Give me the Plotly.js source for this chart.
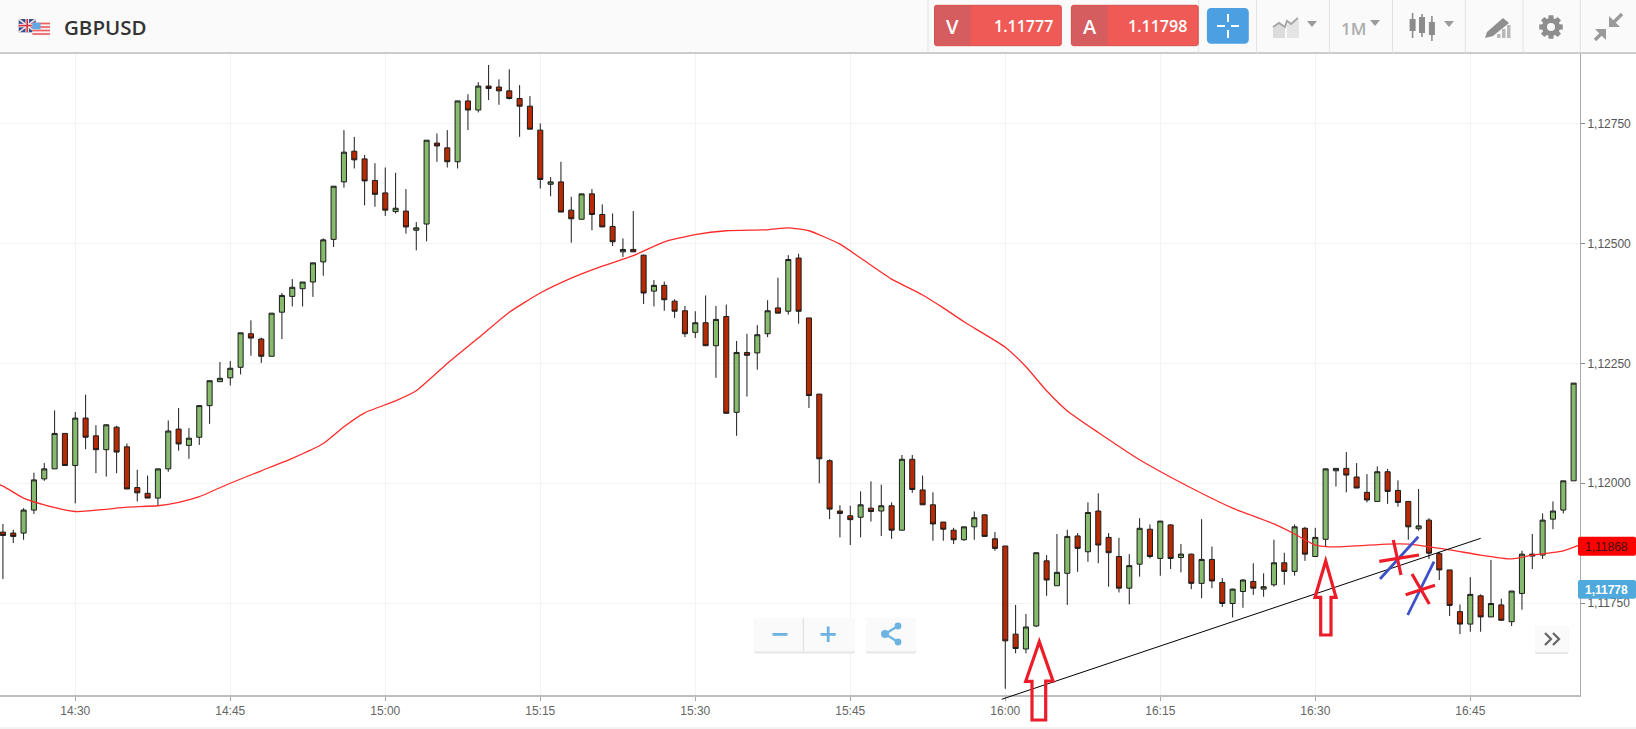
<!DOCTYPE html>
<html><head><meta charset="utf-8">
<script src="https://cdn.plot.ly/plotly-3.0.1.min.js"></script>
<style>html,body{margin:0;padding:0;background:#fff;overflow:hidden}#chart{width:1636px;height:729px}</style>
</head><body><div id="chart"></div>
<script>
const day = '2024-01-15 ';
const times = ['14:23','14:24','14:25','14:26','14:27','14:28','14:29','14:30','14:31','14:32','14:33','14:34','14:35','14:36','14:37','14:38','14:39','14:40','14:41','14:42','14:43','14:44','14:45','14:46','14:47','14:48','14:49','14:50','14:51','14:52','14:53','14:54','14:55','14:56','14:57','14:58','14:59','15:00','15:01','15:02','15:03','15:04','15:05','15:06','15:07','15:08','15:09','15:10','15:11','15:12','15:13','15:14','15:15','15:16','15:17','15:18','15:19','15:20','15:21','15:22','15:23','15:24','15:25','15:26','15:27','15:28','15:29','15:30','15:31','15:32','15:33','15:34','15:35','15:36','15:37','15:38','15:39','15:40','15:41','15:42','15:43','15:44','15:45','15:46','15:47','15:48','15:49','15:50','15:51','15:52','15:53','15:54','15:55','15:56','15:57','15:58','15:59','16:00','16:01','16:02','16:03','16:04','16:05','16:06','16:07','16:08','16:09','16:10','16:11','16:12','16:13','16:14','16:15','16:16','16:17','16:18','16:19','16:20','16:21','16:22','16:23','16:24','16:25','16:26','16:27','16:28','16:29','16:30','16:31','16:32','16:33','16:34','16:35','16:36','16:37','16:38','16:39','16:40','16:41','16:42','16:43','16:44','16:45','16:46','16:47','16:48','16:49','16:50','16:51','16:52','16:53','16:54','16:55'];
const open = [
1.11898,1.11896,1.11896,1.11944,1.12009,1.12030,1.12104,1.12037,1.12136,1.12099,
1.12070,1.12117,1.12076,1.11991,1.11979,1.11969,1.12030,1.12113,1.12079,1.12096,
1.12162,1.12212,1.12220,1.12242,1.12312,1.12301,1.12265,1.12357,1.12390,1.12406,
1.12420,1.12462,1.12509,1.12629,1.12693,1.12677,1.12632,1.12606,1.12567,1.12568,
1.12528,1.12541,1.12710,1.12700,1.12671,1.12798,1.12779,1.12829,1.12827,1.12819,
1.12803,1.12787,1.12737,1.12624,1.12629,1.12570,1.12551,1.12604,1.12561,1.12536,
1.12483,1.12488,1.12476,1.12401,1.12413,1.12380,1.12360,1.12315,1.12335,1.12287,
1.12348,1.12148,1.12273,1.12272,1.12312,1.12366,1.12359,1.12470,1.12345,1.12186,
1.12047,1.11942,1.11932,1.11929,1.11948,1.11942,1.11953,1.11902,1.12050,1.11986,
1.11955,1.11919,1.11902,1.11882,1.11909,1.11934,1.11884,1.11869,1.11685,1.11654,
1.11702,1.11838,1.11786,1.11812,1.11890,1.11857,1.11942,1.11887,1.11847,1.11781,
1.11831,1.11904,1.11843,1.11913,1.11845,1.11852,1.11791,1.11841,1.11793,1.11749,
1.11774,1.11795,1.11779,1.11788,1.11834,1.11816,1.11906,1.11847,1.11883,1.12026,
1.12031,1.12013,1.11981,1.11962,1.12024,1.11985,1.11962,1.11905,1.11923,1.11853,
1.11819,1.11732,1.11706,1.11765,1.11721,1.11746,1.11711,1.11770,1.11852,1.11850,
1.11925,1.11944,1.12005];
const close = [
1.11891,1.11889,1.11944,1.12007,1.12030,1.12104,1.12037,1.12136,1.12096,1.12070,
1.12122,1.12065,1.11988,1.11980,1.11969,1.12030,1.12109,1.12082,1.12094,1.12162,
1.12214,1.12219,1.12240,1.12314,1.12303,1.12265,1.12355,1.12392,1.12409,1.12420,
1.12460,1.12508,1.12620,1.12691,1.12675,1.12631,1.12603,1.12570,1.12574,1.12535,
1.12533,1.12716,1.12704,1.12671,1.12798,1.12779,1.12829,1.12824,1.12819,1.12803,
1.12787,1.12739,1.12634,1.12629,1.12566,1.12552,1.12604,1.12561,1.12535,1.12504,
1.12488,1.12483,1.12397,1.12413,1.12383,1.12359,1.12312,1.12335,1.12287,1.12342,
1.12146,1.12273,1.12267,1.12310,1.12360,1.12355,1.12467,1.12359,1.12183,1.12051,
1.11946,1.11937,1.11924,1.11955,1.11941,1.11953,1.11902,1.12050,1.11987,1.11955,
1.11915,1.11904,1.11882,1.11909,1.11928,1.11889,1.11864,1.11671,1.11655,1.11700,
1.11855,1.11798,1.11814,1.11889,1.11864,1.11939,1.11871,1.11855,1.11781,1.11828,
1.11906,1.11847,1.11921,1.11843,1.11852,1.11791,1.11841,1.11796,1.11749,1.11779,
1.11798,1.11781,1.11784,1.11834,1.11816,1.11909,1.11852,1.11887,1.12030,1.12031,
1.12017,1.11990,1.11965,1.12024,1.11983,1.11960,1.11909,1.11911,1.11854,1.11819,
1.11745,1.11706,1.11768,1.11721,1.11749,1.11714,1.11775,1.11852,1.11848,1.11923,
1.11942,1.12005,1.12209];
const high = [
1.11915,1.11903,1.11948,1.12022,1.12042,1.12152,1.12104,1.12149,1.12185,1.12121,
1.12123,1.12120,1.12083,1.12028,1.12016,1.12030,1.12131,1.12157,1.12115,1.12163,
1.12214,1.12253,1.12255,1.12314,1.12340,1.12304,1.12355,1.12397,1.12426,1.12420,
1.12460,1.12511,1.12620,1.12737,1.12723,1.12685,1.12668,1.12659,1.12648,1.12614,
1.12545,1.12716,1.12730,1.12737,1.12798,1.12812,1.12837,1.12873,1.12843,1.12864,
1.12831,1.12808,1.12751,1.12639,1.12671,1.12598,1.12604,1.12614,1.12582,1.12563,
1.12511,1.12568,1.12477,1.12424,1.12421,1.12384,1.12370,1.12359,1.12392,1.12370,
1.12373,1.12297,1.12312,1.12330,1.12382,1.12429,1.12476,1.12479,1.12345,1.12186,
1.12050,1.11954,1.11953,1.11983,1.12004,1.11997,1.11960,1.12059,1.12059,1.12016,
1.11981,1.11919,1.11907,1.11909,1.11941,1.11935,1.11898,1.11869,1.11746,1.11727,
1.11855,1.11850,1.11894,1.11903,1.11896,1.11960,1.11979,1.11896,1.11886,1.11852,
1.11927,1.11914,1.11921,1.11914,1.11873,1.11853,1.11925,1.11868,1.11802,1.11780,
1.11800,1.11833,1.11812,1.11882,1.11855,1.11914,1.11909,1.11907,1.12031,1.12031,
1.12065,1.12042,1.12019,1.12035,1.12030,1.12006,1.11963,1.11988,1.11927,1.11857,
1.11819,1.11747,1.11804,1.11768,1.11840,1.11759,1.11775,1.11859,1.11894,1.11937,
1.11962,1.12005,1.12209];
const low = [
1.11800,1.11875,1.11882,1.11936,1.12005,1.12030,1.12037,1.11958,1.12071,1.12021,
1.12014,1.12021,1.11988,1.11962,1.11969,1.11953,1.12024,1.12068,1.12051,1.12080,
1.12124,1.12212,1.12204,1.12227,1.12266,1.12251,1.12265,1.12301,1.12369,1.12369,
1.12389,1.12433,1.12493,1.12617,1.12657,1.12580,1.12577,1.12558,1.12563,1.12521,
1.12486,1.12505,1.12671,1.12659,1.12657,1.12737,1.12774,1.12800,1.12790,1.12801,
1.12723,1.12739,1.12615,1.12599,1.12566,1.12502,1.12551,1.12528,1.12535,1.12495,
1.12472,1.12483,1.12374,1.12369,1.12360,1.12345,1.12305,1.12303,1.12287,1.12220,
1.12146,1.12099,1.12181,1.12237,1.12305,1.12355,1.12352,1.12333,1.12157,1.12000,
1.11925,1.11887,1.11871,1.11887,1.11920,1.11890,1.11884,1.11902,1.11980,1.11955,
1.11880,1.11880,1.11873,1.11880,1.11882,1.11889,1.11859,1.11571,1.11645,1.11645,
1.11700,1.11765,1.11786,1.11746,1.11815,1.11836,1.11833,1.11784,1.11772,1.11747,
1.11805,1.11843,1.11807,1.11821,1.11814,1.11779,1.11760,1.11781,1.11742,1.11720,
1.11740,1.11767,1.11763,1.11784,1.11788,1.11807,1.11838,1.11846,1.11868,1.11993,
1.11981,1.11990,1.11960,1.11962,1.11957,1.11951,1.11882,1.11901,1.11842,1.11798,
1.11723,1.11685,1.11690,1.11690,1.11721,1.11713,1.11702,1.11736,1.11821,1.11842,
1.11904,1.11937,1.12005];
const maTimes = ['14:22','14:23','14:25','14:27','14:30','14:35','14:38','14:40','14:42','14:45','14:48','14:51','14:54','14:56','14:58','15:01','15:03','15:06','15:09','15:12','15:15','15:18','15:21','15:24','15:27','15:30','15:33','15:37','15:39','15:41','15:44','15:46','15:49','15:52','15:54','15:56','16:00','16:02','16:04','16:06','16:09','16:13','16:18','16:22','16:26','16:28','16:30','16:32','16:37','16:39','16:43','16:46','16:49','16:51','16:54','16:56'];
const maValues = [1.12001,1.11994,1.11969,1.11955,1.11941,1.11950,1.11953,1.11960,1.11972,1.12000,1.12026,1.12052,1.12083,1.12118,1.12147,1.12172,1.12193,1.12250,1.12303,1.12357,1.12397,1.12428,1.12453,1.12475,1.12504,1.12519,1.12527,1.12529,1.12533,1.12527,1.12499,1.12470,1.12426,1.12393,1.12366,1.12337,1.12284,1.12243,1.12193,1.12151,1.12106,1.12049,1.11990,1.11948,1.11915,1.11894,1.11871,1.11867,1.11873,1.11873,1.11861,1.11850,1.11842,1.11850,1.11859,1.11875];
const priceTicks = [1.1175,1.12,1.1225,1.125,1.1275];
const symbol = 'GBPUSD', bidLabel = 'V', askLabel = 'A', bid = '1.11777', ask = '1.11798', period = '1M';
const maLast = '1,11868', lastPrice = '1,11778';

const W = 1636, H = 729;
const X = x => x / W, Y = y => 1 - y / H;
const shapes = [], notes = [];
const poly = (pts, fill, line, lw, closed = true) => shapes.push({type:'path', xref:'paper', yref:'paper', layer:'above',
  path: 'M' + pts.map(p => X(p[0]) + ',' + Y(p[1])).join(' L') + (closed ? ' Z' : ''),
  fillcolor: fill || 'rgba(0,0,0,0)', line: {color: line || 'rgba(0,0,0,0)', width: line ? lw : 0}});
const rect = (x0, y0, x1, y1, fill, line, lw) => shapes.push({type:'rect', xref:'paper', yref:'paper', layer:'above',
  x0:X(x0), x1:X(x1), y0:Y(y0), y1:Y(y1), fillcolor:fill, line:{color:line||'rgba(0,0,0,0)', width:line?(lw||1):0}});
const rrect = (x0, y0, x1, y1, r, fill, line, lw) => {
  const pts = [];
  [[x1-r,y0+r,-90],[x1-r,y1-r,0],[x0+r,y1-r,90],[x0+r,y0+r,180]].forEach(c => {
    for (let a=0;a<=90;a+=30){const t=(c[2]+a)*Math.PI/180; pts.push([c[0]+r*Math.cos(t),c[1]+r*Math.sin(t)]);}
  });
  poly(pts, fill, line, lw||1);
};
const seg = (x0,y0,x1,y1,color,w) => poly([[x0,y0],[x1,y1]], null, color, w, false);
const note = (x, y, text, size, color, family, weight) => notes.push({xref:'paper', yref:'paper', x:X(x), y:Y(y), text, showarrow:false,
  xanchor:'center', yanchor:'middle', font:{size, color, family:family||'"Open Sans"', weight:weight||400}});

// header bar
rect(0,0,1636,53,'#fafafa');
seg(0,53,1636,53,'#bdbdbd',1.5);
seg(0,728,1636,728,'#e6e6e6',1);
[928,1198.7,1256.6,1329.4,1392.5,1465.3,1523,1580.3].forEach(x => seg(x,0,x,53,'#e2e2e2',1));
// flags
rect(18.7,19,35.7,32.3,'#32508f');
seg(18.7,19,35.7,32.3,'#f2dcdc',1.6); seg(35.7,19,18.7,32.3,'#f2dcdc',1.6);
seg(27.2,19,27.2,32.3,'#f7e9e9',3.5); seg(18.7,25.6,35.7,25.6,'#f7e9e9',3.5);
seg(27.2,19,27.2,32.3,'#d9333f',1.6); seg(18.7,25.6,35.7,25.6,'#d9333f',1.6);
rect(32.3,22.7,50,35.7,'#f4f4f4');
[23.5,27,30.5,34].forEach(y => seg(32.3,y,50,y,'#ef5f63',1.7));
rect(32.3,22.7,40.5,29.2,'#63a7e4');
note(106,26.7,symbol,20.5,'#333333','"Open Sans"',600);
// bid / ask
rrect(934.5,5.3,1061.3,45.7,2,'#f05a56','#d44f4e',1);
poly([[935,6],[970.6,6],[970.6,45],[935,45]],'#d55c5f');
rrect(1071.4,5.3,1198.2,45.7,2,'#f05a56','#d44f4e',1);
poly([[1072,6],[1107.6,6],[1107.6,45],[1072,45]],'#d55c5f');
note(952.3,27,bidLabel,20,'#ffffff','"Open Sans"',600);
note(1089.5,27,askLabel,20,'#ffffff','"Open Sans"',600);
note(1023.7,25.5,bid,16,'#ffffff','"Open Sans"',600);
note(1157,25.5,ask,16,'#ffffff','"Open Sans"',600);
// crosshair button
rrect(1206.9,8,1248.8,43.7,4,'#4c9fe0');
seg(1217,26,1225,26,'#fff',2); seg(1231,26,1239,26,'#fff',2);
seg(1228,14,1228,22,'#fff',2); seg(1228,30,1228,38,'#fff',2);
// chart-type icon
poly([[1273,38],[1273,27],[1279,22],[1285,27],[1285,38]],'#dcdcdc');
poly([[1287,38],[1287,25],[1299,20],[1299,38]],'#e4e4e4');
poly([[1273,27],[1279,23],[1285,27],[1287,21],[1291,24],[1298,18]],null,'#a6a6a6',2,false);
const caret = (x,y) => poly([[x-5,y-3],[x+5,y-3],[x,y+3]],'#9b9b9b');
caret(1312,24); caret(1375,23); caret(1449,24);
note(1353.5,28,period,17,'#adadad','"Open Sans"',600);
// candle icon
[[1412.6,13,38,19,31],[1422,14,37,17,33],[1431.9,16,41,22,35]].forEach(c => {
  seg(c[0],c[1],c[0],c[2],'#8c8c8c',1.6); rect(c[0]-3,c[3],c[0]+3,c[4],'#8c8c8c');
});
// drawing icon
poly([[1485,38],[1487,32],[1503,18],[1509,23],[1493,36]],'#8f8f8f');
[[1497,34],[1502,29],[1507,25]].forEach(b => rect(b[0],b[1],b[0]+3.5,38,'#b9b9b9'));
// gear
{ const pts=[]; const cx=1551, cy=27;
  for(let i=0;i<8;i++){ const a=i*Math.PI/4;
    [[-0.3,9],[-0.2,12],[0.2,12],[0.3,9]].forEach(p=>pts.push([cx+p[1]*Math.cos(a+p[0]),cy+p[1]*Math.sin(a+p[0])])); }
  poly(pts,'#8e8e8e');
  shapes.push({type:'circle',xref:'paper',yref:'paper',layer:'above',x0:X(cx-4),x1:X(cx+4),y0:Y(cy-4),y1:Y(cy+4),fillcolor:'#fafafa',line:{width:0}});
}
// compress icon
poly([[1609,27],[1609,16],[1620,27]],'#9a9a9a');
seg(1613,23,1622,14,'#9a9a9a',3.4);
poly([[1606,29],[1606,40],[1595,29]],'#9a9a9a');
seg(1602,33,1595,40,'#9a9a9a',3.4);
// zoom / share buttons
rrect(754.3,618,855,653.5,2,'#e6e6e6');
rrect(754.3,617.7,855,651.5,2,'#fafafa');
seg(803.3,618,803.3,651,'#dddddd',1);
rect(772.5,633,787.5,635.8,'#6db3e2');
rect(820.5,633,835.8,635.8,'#6db3e2'); rect(826.8,626.5,829.6,642,'#6db3e2');
rrect(866,618,916,653.5,2,'#e6e6e6');
rrect(866,617.7,916,651.5,2,'#fafafa');
seg(898,626,885,634,'#6db3e2',2.2); seg(885,634,898,642,'#6db3e2',2.2);
[[885,634,4],[898,626,3.4],[898,642,3.4]].forEach(c => shapes.push({type:'circle',xref:'paper',yref:'paper',layer:'above',
  x0:X(c[0]-c[2]),x1:X(c[0]+c[2]),y0:Y(c[1]-c[2]),y1:Y(c[1]+c[2]),fillcolor:'#6db3e2',line:{width:0}}));
// scroll-to-end button
rrect(1535,626,1568.3,654,2,'#e4e4e4');
rrect(1535,625.7,1568.3,652.3,2,'#fafafa');
poly([[1545,633],[1551,639],[1545,645]],null,'#666666',2.2,false);
poly([[1553,633],[1559,639],[1553,645]],null,'#666666',2.2,false);
// hand-drawn markup
seg(1001.7,699.3,1480.7,538.3,'#000000',1);
const red='#ec1c28', blue='#3f51c8';
poly([[1039.3,641.7],[1025.7,681.3],[1032,681.3],[1032,720],[1045.7,720],[1045.7,681],[1053,681]],null,red,3.2);
poly([[1325.7,561],[1315,597.3],[1320.7,597.3],[1320.7,635],[1331,635],[1331,597.3],[1336,597.3]],null,red,3.2);
seg(1380,579,1418.3,536.7,blue,2.8); seg(1407.7,615,1434,561.7,blue,2.8);
seg(1379.3,561.3,1419,555,red,3.2); seg(1393.3,540,1401,575,red,3.2);
seg(1405.7,594.7,1435,585.3,red,3.2); seg(1412,574,1429.3,604,red,3.2);
// price badges
rrect(1578,536.7,1636,555.7,2,'#ff0000');
note(1606,546.5,maLast,12,'#3a1010','"Liberation Sans"');
rrect(1578,580,1636,598.7,2,'#4fa9dc');
note(1606,589.6,lastPrice,12,'#ffffff','"Liberation Sans"',700);

const candle = {type:'candlestick', x:times.map(t=>day+t), open, high, low, close, whiskerwidth:0,
  increasing:{line:{color:'#1c1c1c',width:1}, fillcolor:'#86bb6d'},
  decreasing:{line:{color:'#1c1c1c',width:1}, fillcolor:'#b82a02'}, hoverinfo:'skip'};
const ma = {type:'scatter', mode:'lines', x:maTimes.map(t=>day+t), y:maValues,
  line:{color:'#ff2b2b',width:1.3,shape:'spline',smoothing:0.5}, hoverinfo:'skip'};

const layout = {width:W, height:H, autosize:false, margin:{l:0,r:0,t:0,b:0,pad:0}, paper_bgcolor:'#fff', plot_bgcolor:'#fff',
  showlegend:false, separators:',.', boxgap:0.3, boxgroupgap:0.3, shapes, annotations:notes,
  xaxis:{type:'date', domain:[0,1580/W], range:[day+'14:22:43',day+'16:55:37'], tick0:day+'14:30', dtick:900000, tickformat:'%H:%M',
    rangeslider:{visible:false}, showgrid:true, gridcolor:'#f3f3f3', gridwidth:1, showline:true, linecolor:'#bdbdbd', linewidth:2,
    ticks:'outside', ticklen:4, tickcolor:'#aaaaaa', tickfont:{family:'"Liberation Sans"',size:12,color:'#666666'}, zeroline:false, fixedrange:true},
  yaxis:{domain:[1-695/H,1-53/H], range:[1.11558,1.12898], side:'right', tickmode:'array', tickvals:priceTicks, tickformat:'.5f',
    showgrid:true, gridcolor:'#f3f3f3', gridwidth:1, showline:true, linecolor:'#aaaaaa', linewidth:1,
    ticks:'outside', ticklen:4, tickcolor:'#888888', tickfont:{family:'"Liberation Sans"',size:12,color:'#555555'}, zeroline:false, fixedrange:true}
};
Plotly.newPlot('chart',[candle,ma],layout,{displayModeBar:false,staticPlot:true});
</script></body></html>
